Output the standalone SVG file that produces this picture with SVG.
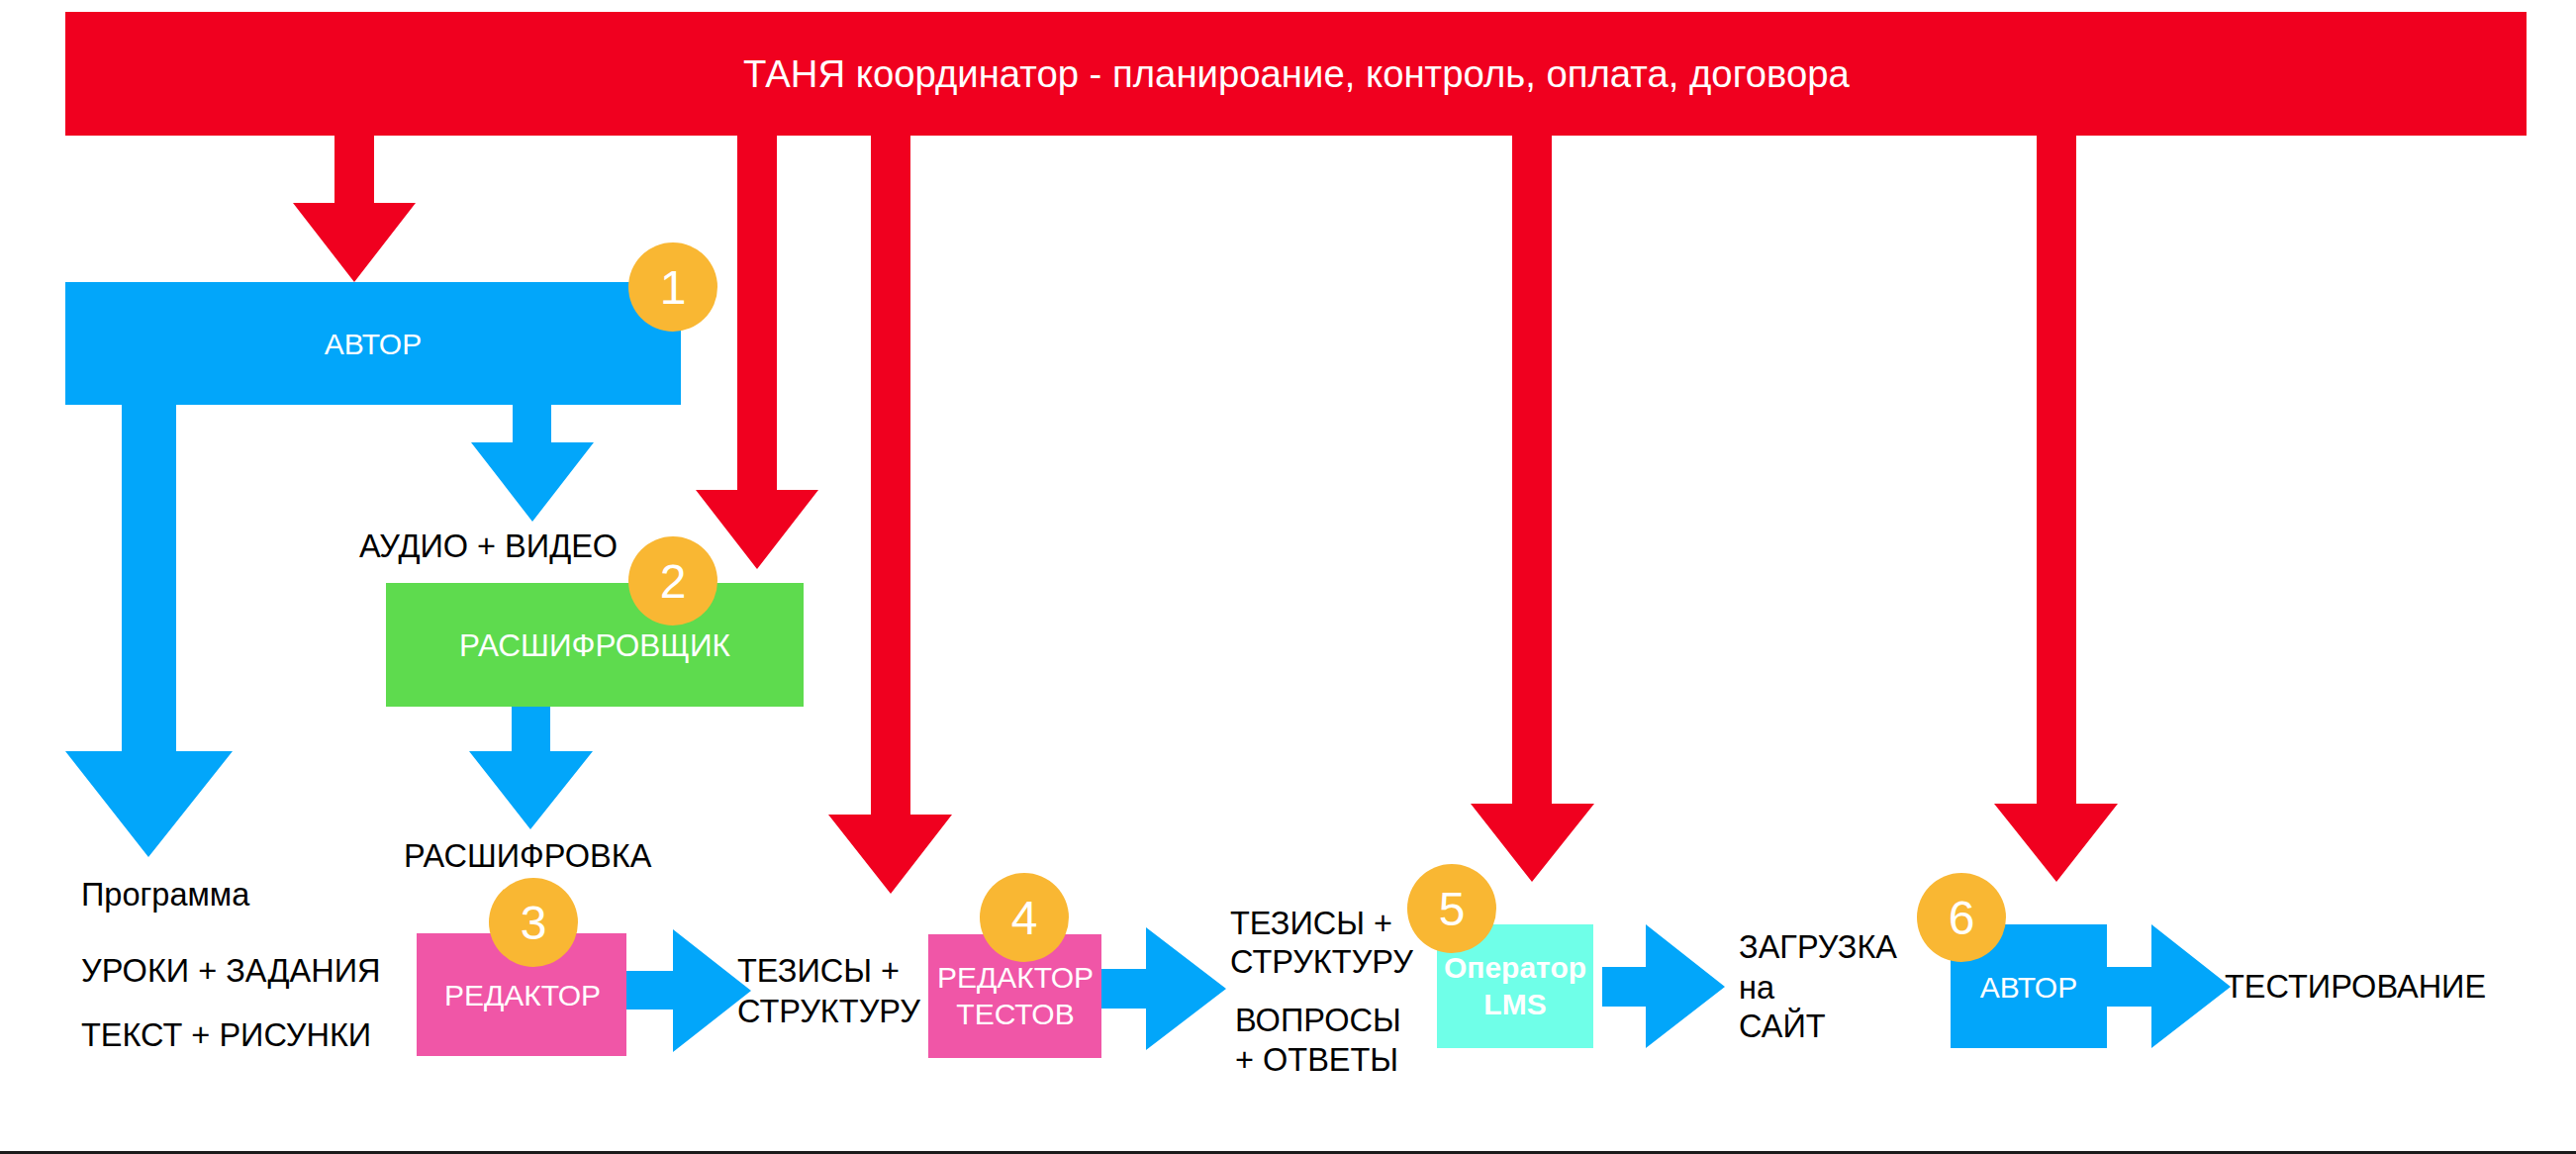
<svg xmlns="http://www.w3.org/2000/svg" width="2603" height="1166" viewBox="0 0 2603 1166">
<style>
.red{fill:#F0001F}
.blue{fill:#02A6FA}
.lbl{font-family:"Liberation Sans",Arial,sans-serif;font-size:32.5px;fill:#000}
.ntx{font-family:"Liberation Sans",Arial,sans-serif;font-size:30px;fill:#fff;text-anchor:middle}
.badge circle{fill:#F9B733}
.badge text{font-family:"Liberation Sans",Arial,sans-serif;font-size:48px;fill:#fff;text-anchor:middle}
</style>
<rect x="0" y="0" width="2603" height="1166" fill="#fff"/>
<rect x="0" y="1163" width="2603" height="3" fill="#1b1b1b"/>

<g id="connectors">
  <polygon class="red" points="338,137 378,137 378,205 420,205 358,285 296,205 338,205"/>
  <polygon class="red" points="745,137 785,137 785,495 827,495 765,575 703,495 745,495"/>
  <polygon class="red" points="880,137 920,137 920,823 962,823 900,903 837,823 880,823"/>
  <polygon class="red" points="1528,137 1568,137 1568,812 1611,812 1548,891 1486,812 1528,812"/>
  <polygon class="red" points="2058,137 2098,137 2098,812 2140,812 2078,891 2015,812 2058,812"/>
  <polygon class="blue" points="123,409 178,409 178,759 235,759 150,866 66,759 123,759"/>
  <polygon class="blue" points="518,409 557,409 557,447 600,447 538,527 476,447 518,447"/>
  <polygon class="blue" points="517,714 556,714 556,759 599,759 536,838 474,759 517,759"/>
  <polygon class="blue" points="633,981 680,981 680,939 759,1001 680,1063 680,1020 633,1020"/>
  <polygon class="blue" points="1113,979 1158,979 1158,937 1239,999 1158,1061 1158,1019 1113,1019"/>
  <polygon class="blue" points="1619,977 1663,977 1663,934 1743,997 1663,1059 1663,1017 1619,1017"/>
  <polygon class="blue" points="2129,977 2174,977 2174,934 2254,997 2174,1059 2174,1017 2129,1017"/>
</g>

<g id="coordinator">
  <rect class="red" x="66" y="12" width="2487" height="125"/>
  <text x="1310" y="88" style="font-family:'Liberation Sans',Arial,sans-serif;font-size:38.3px;fill:#fff;text-anchor:middle">ТАНЯ координатор - планироание, контроль, оплата, договора</text>
</g>

<g id="author1">
  <rect class="blue" x="66" y="285" width="622" height="124"/>
  <text class="ntx" x="377" y="358">АВТОР</text>
  <g class="badge"><circle cx="680" cy="290" r="45"/><text x="680" y="307">1</text></g>
</g>

<g id="label-audio"><text class="lbl" x="363" y="563">АУДИО + ВИДЕО</text></g>

<g id="decoder">
  <rect x="390" y="589" width="422" height="125" fill="#5EDB4E"/>
  <text class="ntx" x="601" y="663" style="font-size:31.5px">РАСШИФРОВЩИК</text>
  <g class="badge"><circle cx="680" cy="587" r="45"/><text x="680" y="604">2</text></g>
</g>

<g id="label-decode"><text class="lbl" x="408" y="876">РАСШИФРОВКА</text></g>

<g id="label-program">
  <text class="lbl" x="82" y="915">Программа</text>
  <text class="lbl" x="82" y="992">УРОКИ + ЗАДАНИЯ</text>
  <text class="lbl" x="82" y="1057">ТЕКСТ + РИСУНКИ</text>
</g>

<g id="editor">
  <rect x="421" y="943" width="212" height="124" fill="#F056A7"/>
  <text class="ntx" x="528" y="1016">РЕДАКТОР</text>
  <g class="badge"><circle cx="539" cy="932" r="45"/><text x="539" y="949">3</text></g>
</g>

<g id="label-thesis1">
  <text class="lbl" x="745" y="992">ТЕЗИСЫ +</text>
  <text class="lbl" x="745" y="1033">СТРУКТУРУ</text>
</g>

<g id="test-editor">
  <rect x="938" y="944" width="175" height="125" fill="#F056A7"/>
  <text class="ntx" x="1026" y="998">РЕДАКТОР</text>
  <text class="ntx" x="1026" y="1035">ТЕСТОВ</text>
  <g class="badge"><circle cx="1035" cy="927" r="45"/><text x="1035" y="944">4</text></g>
</g>

<g id="label-thesis2">
  <text class="lbl" x="1243" y="944">ТЕЗИСЫ +</text>
  <text class="lbl" x="1243" y="983">СТРУКТУРУ</text>
  <text class="lbl" x="1248" y="1042">ВОПРОСЫ</text>
  <text class="lbl" x="1248" y="1082">+ ОТВЕТЫ</text>
</g>

<g id="lms-operator">
  <rect x="1452" y="934" width="158" height="125" fill="#6FFFE8"/>
  <text class="ntx" x="1531" y="988" style="font-weight:bold;font-size:30px">Оператор</text>
  <text class="ntx" x="1531" y="1025" style="font-weight:bold;font-size:30px">LMS</text>
  <g class="badge"><circle cx="1467" cy="918" r="45"/><text x="1467" y="935">5</text></g>
</g>

<g id="label-upload">
  <text class="lbl" x="1757" y="968">ЗАГРУЗКА</text>
  <text class="lbl" x="1757" y="1009">на</text>
  <text class="lbl" x="1757" y="1048">САЙТ</text>
</g>

<g id="author2">
  <rect class="blue" x="1971" y="934" width="158" height="125"/>
  <text class="ntx" x="2050" y="1008">АВТОР</text>
  <g class="badge"><circle cx="1982" cy="927" r="45"/><text x="1982" y="944">6</text></g>
</g>

<g id="label-testing"><text class="lbl" x="2248" y="1008">ТЕСТИРОВАНИЕ</text></g>
</svg>
